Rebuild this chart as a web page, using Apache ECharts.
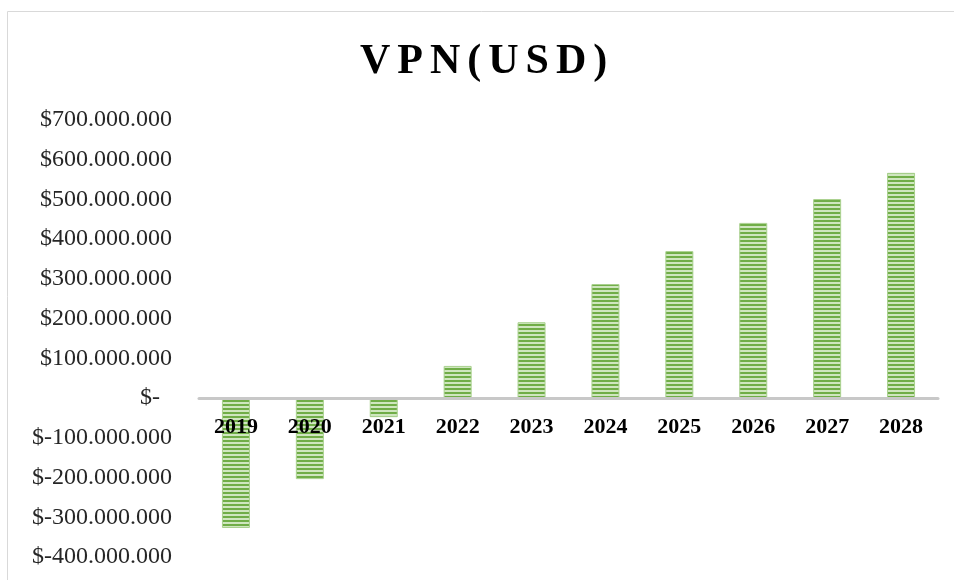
<!DOCTYPE html>
<html lang="es">
<head>
    <meta charset="UTF-8">
    <title>VPN(USD)</title>
    <script src="https://cdn.jsdelivr.net/npm/echarts@6/dist/echarts.min.js"></script>
    <style>
        html, body { margin: 0; padding: 0; background: #fff; }
        #chart { width: 954px; height: 580px; }
    </style>
</head>
<body>
<div id="chart"></div>
<script type="text/javascript">
    // datos
    var years = ['2019', '2020', '2021', '2022', '2023', '2024', '2025', '2026', '2027', '2028'];
    var vpn = [-327000000, -204000000, -48000000, 81000000, 191000000, 287000000, 370000000, 441000000, 501000000, 567000000];
    var yMin = -400000000;
    var yMax = 700000000;
    var yStep = 100000000;

    // relleno de rayas horizontales
    var stripe = document.createElement('canvas');
    stripe.width = 4;
    stripe.height = 4;
    var ctx = stripe.getContext('2d');
    ctx.fillStyle = '#cfe6bf';
    ctx.fillRect(0, 0, 4, 4);
    ctx.fillStyle = '#70ad47';
    ctx.fillRect(0, 0, 4, 2);

    function money(v) {
        if (v === 0) return '$-  ';
        var s = Math.abs(v).toString().replace(/\B(?=(\d{3})+(?!\d))/g, '.');
        return '$' + (v < 0 ? '-' : '') + s;
    }

    // el titulo va con espacio entre letras
    var titleText = 'VPN(USD)'.split('').join('\u2006');

    // posicion del cero dentro del grid (para las etiquetas del eje x)
    var gridTop = 120, gridBottom = 23, chartH = 580;
    var zeroOffset = -(chartH - gridTop - gridBottom) * (0 - yMin) / (yMax - yMin);

    var chart = echarts.init(document.getElementById('chart'));

    var option = {
        animation: false,
        graphic: [{
            type: 'rect',
            shape: { x: 7.5, y: 11.5, width: 980, height: 620 },
            style: { fill: 'none', stroke: '#d9d9d9', lineWidth: 1 },
            silent: true
        }],
        title: {
            text: titleText,
            left: 355,
            top: 36,
            textStyle: {
                fontFamily: 'Liberation Serif',
                fontWeight: 'bold',
                fontSize: 42,
                color: '#000'
            }
        },
        grid: {
            left: 199,
            right: 16,
            top: gridTop,
            bottom: gridBottom,
            outerBoundsMode: 'none'
        },
        xAxis: {
            type: 'category',
            data: years,
            offset: zeroOffset,
            z: 10,
            axisLine: {
                onZero: false,
                lineStyle: { color: '#c8c8c8', width: 3 }
            },
            axisTick: { show: false },
            axisLabel: {
                margin: 18,
                fontFamily: 'Liberation Serif',
                fontWeight: 'bold',
                fontSize: 22,
                color: '#000'
            }
        },
        yAxis: {
            type: 'value',
            min: yMin,
            max: yMax,
            interval: yStep,
            axisLine: { show: false },
            axisTick: { show: false },
            splitLine: { show: false },
            axisLabel: {
                margin: 27,
                fontFamily: 'Liberation Serif',
                fontSize: 24,
                color: '#262626',
                formatter: money
            }
        },
        series: [{
            name: 'VPN',
            type: 'bar',
            data: vpn,
            barWidth: 28,
            itemStyle: {
                color: { image: stripe, repeat: 'repeat' },
                borderColor: '#a9d18e',
                borderWidth: 1
            }
        }]
    };

    chart.setOption(option);
</script>
</body>
</html>
